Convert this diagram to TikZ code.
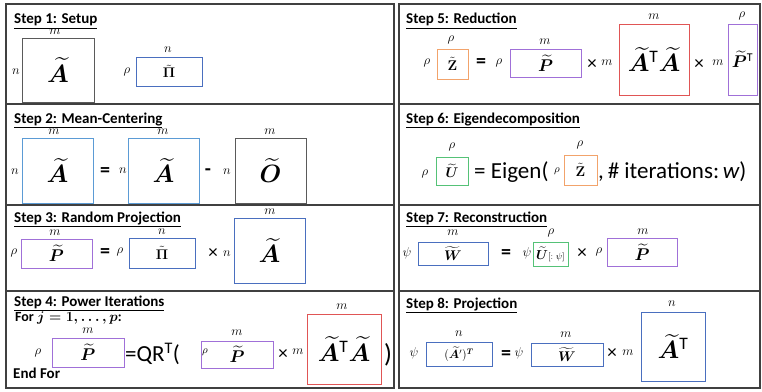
\RequirePackage{fix-cm}
\documentclass[tikz,border=0pt]{standalone}
\usepackage{amsmath}
\usepackage{bm}
\usepackage[no-math]{fontspec}
\newfontfamily\carl{Carlito}
\newcommand\fs[1]{\fontsize{#1}{#1}\selectfont}
\definecolor{frameC}{HTML}{404040}
\definecolor{grayC}{HTML}{5A5A5A}
\definecolor{lblueC}{HTML}{5B9BD5}
\definecolor{dblueC}{HTML}{4A6FBF}
\definecolor{purpC}{HTML}{A070D8}
\definecolor{oranC}{HTML}{F2A36B}
\definecolor{redC}{HTML}{E05555}
\definecolor{greenC}{HTML}{55C277}
\newcommand\matbox[7]{\node[#2,minimum width={#5-#3},minimum height={#6-#4}] (#1) at ({(#3+#5)/2},{(#4+#6)/2}) {#7};}
\newcommand\tT{\text{\carl T}}
\tikzset{
  frame/.style={draw=frameC,line width=1.5pt},
  mb/.style={inner sep=0pt,outer sep=0pt,line width=0.9pt},
  gbox/.style={mb,draw=grayC},
  lbbox/.style={mb,draw=lblueC},
  dbbox/.style={mb,draw=dblueC},
  pbox/.style={mb,draw=purpC},
  obox/.style={mb,draw=oranC},
  rbox/.style={mb,draw=redC},
  grbox/.style={mb,draw=greenC},
  lbl/.style={inner sep=0pt,font=\fs{13}},
  slbl/.style={inner sep=0pt,font=\fs{11}},
  ttl/.style={inner sep=0pt,anchor=base west,font=\carl\bfseries\fs{15}},
  op/.style={inner sep=0pt,font=\carl\bfseries\fs{20}},
  tms/.style={inner sep=0pt,font=\carl\fs{19}},
  big/.style={font=\fs{25}},
  mid/.style={font=\fs{17}},
  sml/.style={font=\fs{14}},
  txt/.style={inner sep=0pt,anchor=west,font=\carl\fs{23}}
}
\begin{document}
\begin{tikzpicture}[x=1pt,y=-1pt]
\useasboundingbox (0,0) rectangle (762,391);
% frames
\draw[frame] (6,4) rectangle (394,388);
\draw[frame] (6,104) -- (394,104);
\draw[frame] (6,205) -- (394,205);
\draw[frame] (6,291) -- (394,291);
\draw[frame] (399,4) rectangle (760,388);
\draw[frame] (399,104) -- (760,104);
\draw[frame] (399,205) -- (760,205);
\draw[frame] (399,291) -- (760,291);
% titles
\node[ttl] (t1) at (14,23.5) {\underline{Step 1: Setup}};
\node[ttl] (t2) at (14,123) {\underline{Step 2: Mean-Centering}};
\node[ttl] (t3) at (14,222) {\underline{Step 3: Random Projection}};
\node[ttl] (t4) at (14,306) {\underline{Step 4: Power Iterations}};
\node[ttl] (t5) at (406,23.5) {\underline{Step 5: Reduction}};
\node[ttl] (t6) at (406,123) {\underline{Step 6: Eigendecomposition}};
\node[ttl] (t7) at (406,222) {\underline{Step 7: Reconstruction}};
\node[ttl] (t8) at (406,308) {\underline{Step 8: Projection}};
% Step 1
\matbox{A1}{gbox,big}{22}{38}{94}{102}{$\widetilde{\bm A}$}
\node[lbl] (A1m) at (55,32) {$m$};
\node[lbl] (A1n) at (16,72) {$n$};
\matbox{P1}{dbbox,sml}{136}{57}{202}{86}{$\tilde{\mathbf{\Pi}}$}
\node[lbl] (P1n) at (168,50) {$n$};
\node[lbl] (P1r) at (127,72) {$\rho$};
% Step 2
\matbox{A2a}{lbbox,big}{22}{138}{93}{203}{$\widetilde{\bm A}$}
\node[lbl] (A2am) at (54,132) {$m$};
\node[lbl] (A2an) at (15,172) {$n$};
\node[op] (eq2) at (105,172) {=};
\node[lbl] (A2bn) at (123,171) {$n$};
\matbox{A2b}{lbbox,big}{128}{138}{199}{203}{$\widetilde{\bm A}$}
\node[lbl] (A2bm) at (163,132) {$m$};
\node[op] (mi2) at (208,172) {-};
\node[lbl] (O2n) at (227,172) {$n$};
\matbox{O2}{gbox,big}{235}{138}{306}{203}{$\widetilde{\bm O}$}
\node[lbl] (O2m) at (270,132) {$m$};
% Step 3
\node[lbl] (P3r) at (14,253) {$\rho$};
\matbox{P3}{pbox,mid}{21}{239}{92}{268}{$\widetilde{\bm P}$}
\node[lbl] (P3m) at (55,233) {$m$};
\node[op] (eq3) at (105,253) {=};
\node[lbl] (Pi3r) at (120,252) {$\rho$};
\matbox{Pi3}{dbbox,sml}{129}{238}{195}{268}{$\tilde{\mathbf{\Pi}}$}
\node[lbl] (Pi3n) at (162,232) {$n$};
\node[tms] (x3) at (213,254) {×};
\node[lbl] (A3n) at (227,254) {$n$};
\matbox{A3}{dbbox,big}{234}{218}{305}{283}{$\widetilde{\bm A}$}
\node[lbl] (A3m) at (270,212) {$m$};
% Step 4
\node[inner sep=0pt,anchor=base west,font=\carl\bfseries\fs{14}] (for4) at (15,321) {For {\boldmath$j=1,\ldots,p$}:};
\node[inner sep=0pt,anchor=base west,font=\carl\bfseries\fs{15}] (end4) at (13,378) {End For};
\node[lbl] (P4ar) at (38,353) {$\rho$};
\matbox{P4a}{pbox,mid}{52}{338}{124}{367}{$\widetilde{\bm P}$}
\node[lbl] (P4am) at (88,331) {$m$};
\node[txt] (qr4) at (125,354) {=QR\textsuperscript{T}(};
\node[slbl] (P4br) at (205,352) {$\rho$};
\matbox{P4b}{pbox,mid}{201}{341}{273}{368}{$\widetilde{\bm P}$}
\node[lbl] (P4bm) at (237,333) {$m$};
\node[tms] (x4) at (283,355) {×};
\node[lbl] (R4m) at (298,352) {$m$};
\matbox{R4}{rbox,big}{307}{314}{381}{384}{$\widetilde{\bm A}^{\tT}\widetilde{\bm A}$}
\node[lbl] (R4mt) at (342,307) {$m$};
\node[inner sep=0pt,font=\carl\fs{26}] (cl4) at (388,355) {)};
% Step 5
\matbox{Z5}{obox,sml}{437}{49}{468}{79}{$\tilde{\mathbf{Z}}$}
\node[lbl] (Z5rt) at (451,40) {$\rho$};
\node[lbl] (Z5r) at (427,63) {$\rho$};
\node[op] (eq5) at (481,63) {=};
\node[lbl] (P5r) at (499,63) {$\rho$};
\matbox{P5}{pbox,mid}{510}{49}{581}{77}{$\widetilde{\bm P}$}
\node[lbl] (P5m) at (545,42) {$m$};
\node[tms] (x5a) at (592,65) {×};
\node[lbl] (R5ml) at (607,63) {$m$};
\matbox{R5}{rbox,big}{619}{24}{689}{95}{$\widetilde{\bm A}^{\tT}\widetilde{\bm A}$}
\node[lbl] (R5m) at (654,17) {$m$};
\node[tms] (x5b) at (699,65) {×};
\node[lbl] (PT5m) at (718,63) {$m$};
\matbox{PT5}{pbox,mid}{728}{24}{757}{95}{$\widetilde{\bm P}^{\tT}$}
\node[lbl] (PT5r) at (742,16) {$\rho$};
% Step 6
\node[lbl] (U6r) at (425,174) {$\rho$};
\matbox{U6}{grbox,sml}{436}{157}{468}{185}{$\widetilde{\bm U}$}
\node[lbl] (U6rt) at (452,147) {$\rho$};
\node[txt] (eig6) at (474,172) {= Eigen(};
\node[slbl] (Z6r) at (557,171) {$\rho$};
\matbox{Z6}{obox,sml}{564}{155}{597}{185}{$\tilde{\mathbf{Z}}$}
\node[lbl] (Z6rt) at (580,145) {$\rho$};
\node[txt] (it6) at (598,172) {,\,\# iterations:\,{\itshape w})};
% Step 7
\node[lbl] (W7p) at (407,253) {$\psi$};
\matbox{W7}{dbbox,sml}{418}{242}{488}{265}{$\widetilde{\bm W}$}
\node[lbl] (W7m) at (453,233) {$m$};
\node[op] (eq7) at (506,254) {=};
\node[lbl] (U7p) at (527,253) {$\psi$};
\matbox{U7}{grbox,font=\fs{13}}{533}{242}{568}{266}{$\widetilde{\bm U}${\fs{9}$[:\psi]$}}
\node[lbl] (U7r) at (551,233) {$\rho$};
\node[tms] (x7) at (582,254) {×};
\node[lbl] (P7r) at (599,252) {$\rho$};
\matbox{P7}{pbox,mid}{607}{238}{677}{266}{$\widetilde{\bm P}$}
\node[lbl] (P7m) at (643,232) {$m$};
% Step 8
\node[lbl] (AT8p) at (414,353) {$\psi$};
\matbox{AT8}{dbbox,font=\fs{12}}{426}{342}{492}{366}{$(\widetilde{\bm A}')^{\bm T}$}
\node[lbl] (AT8n) at (459,334) {$n$};
\node[op] (eq8) at (506,355) {=};
\node[lbl] (W8p) at (519,353) {$\psi$};
\matbox{W8}{dbbox,sml}{531}{343}{603}{366}{$\widetilde{\bm W}$}
\node[lbl] (W8m) at (566,335) {$m$};
\node[tms] (x8) at (612,354) {×};
\node[lbl] (A8m) at (628,353) {$m$};
\matbox{A8}{dbbox,big}{641}{312}{705}{381}{$\widetilde{\bm A}^{\tT}$}
\node[lbl] (A8n) at (672,304) {$n$};
\end{tikzpicture}
\end{document}
